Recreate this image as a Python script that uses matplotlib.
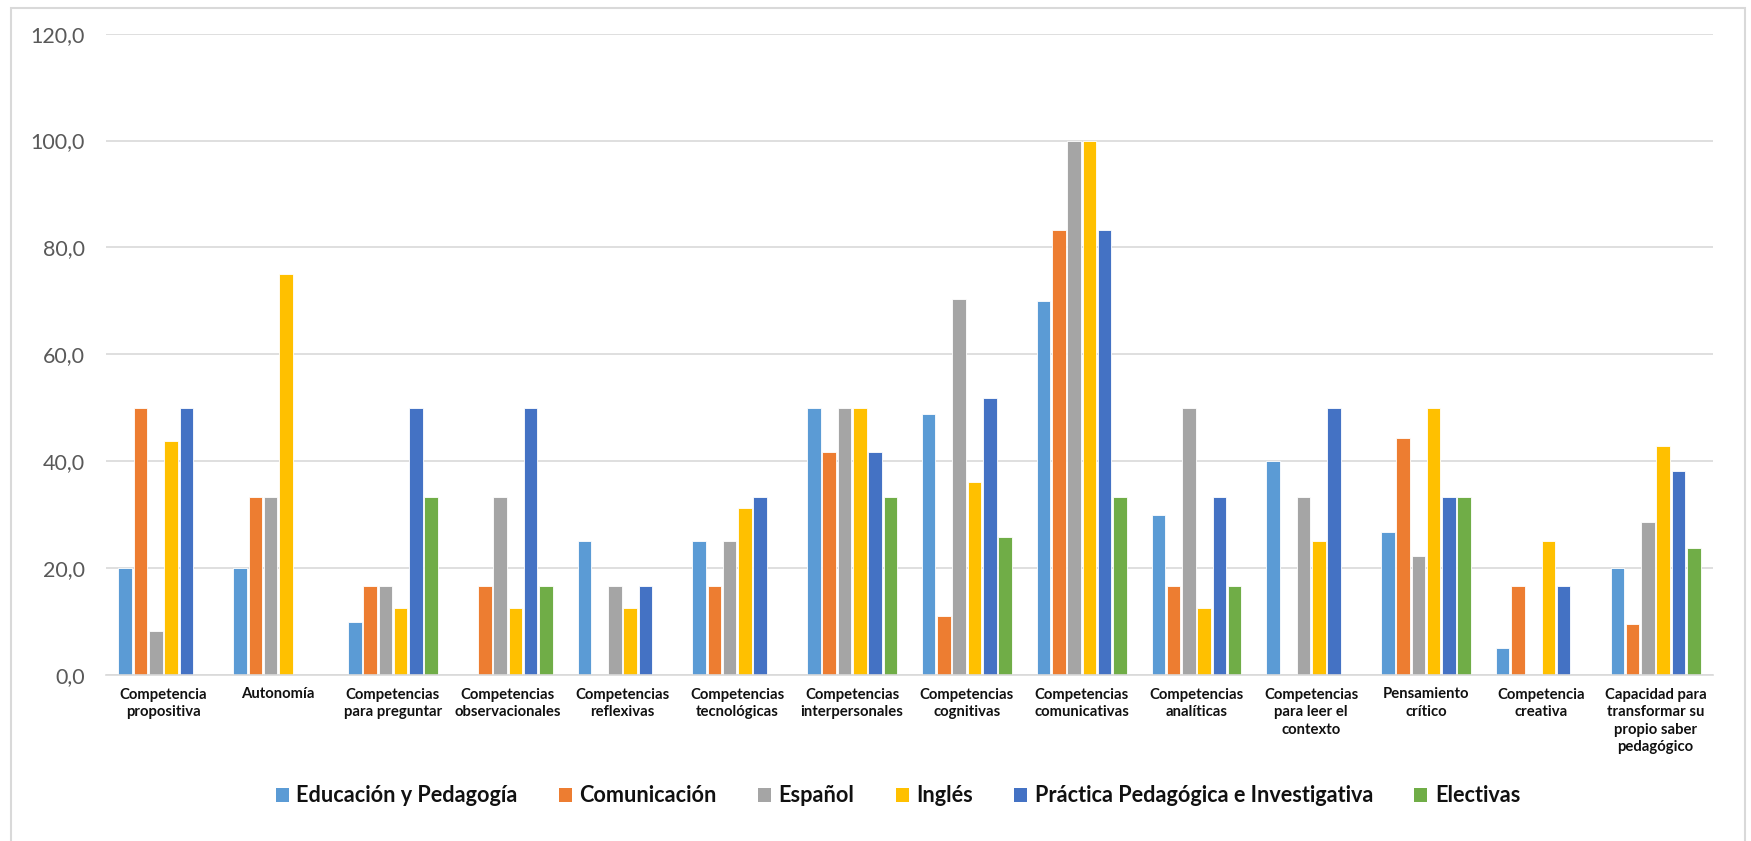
import matplotlib
matplotlib.use("Agg")
import matplotlib.pyplot as plt
from matplotlib.patches import Rectangle
from matplotlib.ticker import FuncFormatter
import numpy as np

plt.rcParams['font.family'] = ['Lato', 'DejaVu Sans']

categories = [
    "Competencia\npropositiva",
    "Autonomía",
    "Competencias\npara preguntar",
    "Competencias\nobservacionales",
    "Competencias\nreflexivas",
    "Competencias\ntecnológicas",
    "Competencias\ninterpersonales",
    "Competencias\ncognitivas",
    "Competencias\ncomunicativas",
    "Competencias\nanalíticas",
    "Competencias\npara leer el\ncontexto",
    "Pensamiento\ncrítico",
    "Competencia\ncreativa",
    "Capacidad para\ntransformar su\npropio saber\npedagógico",
]

series_names = [
    "Educación y Pedagogía",
    "Comunicación",
    "Español",
    "Inglés",
    "Práctica Pedagógica e Investigativa",
    "Electivas",
]

educacion = [20.0, 20.0, 10.0, 0.0, 25.0, 25.0, 50.0, 48.8, 70.0, 30.0, 40.0, 26.7, 5.0, 20.0]
comunicacion = [50.0, 33.3, 16.7, 16.7, 0.0, 16.7, 41.7, 11.1, 83.3, 16.7, 0.0, 44.4, 16.7, 9.5]
espanol = [8.3, 33.3, 16.7, 33.3, 16.7, 25.0, 50.0, 70.4, 100.0, 50.0, 33.3, 22.2, 0.0, 28.6]
ingles = [43.8, 75.0, 12.5, 12.5, 12.5, 31.3, 50.0, 36.1, 100.0, 12.5, 25.0, 50.0, 25.0, 42.9]
practica = [50.0, 0.0, 50.0, 50.0, 16.7, 33.3, 41.7, 51.9, 83.3, 33.3, 50.0, 33.3, 16.7, 38.1]
electivas = [0.0, 0.0, 33.3, 16.7, 0.0, 0.0, 33.3, 25.9, 33.3, 16.7, 0.0, 33.3, 0.0, 23.8]

series_values = [educacion, comunicacion, espanol, ingles, practica, electivas]
colors = ["#5B9BD5", "#ED7D31", "#A5A5A5", "#FFC000", "#4472C4", "#70AD47"]

y_ticks = [0, 20, 40, 60, 80, 100, 120]

fig = plt.figure(figsize=(17.51, 8.41), dpi=100)
fig.patch.set_facecolor("white")

# outer chart frame
fig.patches.append(Rectangle((11 / 1751, -0.05), (1745 - 11) / 1751, 1.05 - 8 / 841,
                             transform=fig.transFigure, fill=False,
                             edgecolor="#D9D9D9", linewidth=1.5))

ax = fig.add_axes([106 / 1751, 1 - 675 / 841, (1713 - 106) / 1751, (675 - 33.6) / 841])

x = np.arange(len(categories))
pitch = 0.133
bar_w = 0.118
for i, (name, vals, c) in enumerate(zip(series_names, series_values, colors)):
    offs = (i - 2.5) * pitch
    ax.bar(x + offs, vals, width=bar_w, color=c, edgecolor="white",
           linewidth=0.6, label=name, zorder=3)

ax.set_xlim(-0.5, len(categories) - 0.5)
ax.set_ylim(0, 120)
ax.set_yticks(y_ticks)
ax.yaxis.set_major_formatter(FuncFormatter(lambda v, p: f"{v:.1f}".replace(".", ",")))
ax.grid(axis="y", color="#D9D9D9", linewidth=1.2, zorder=0)
ax.set_axisbelow(True)

for s in ["top", "right", "left"]:
    ax.spines[s].set_visible(False)
ax.spines["bottom"].set_color("#D9D9D9")
ax.spines["bottom"].set_linewidth(1.2)
ax.spines["bottom"].set_zorder(4)

ax.tick_params(axis="y", length=0, pad=15, labelsize=15.5, labelcolor="#595959")
ax.tick_params(axis="x", length=0, pad=9)
ax.set_xticks(x)
ax.set_xticklabels(categories, fontsize=10.7, fontweight="bold", color="#111111",
                   linespacing=1.33)

handles = [Rectangle((0, 0), 1, 1, facecolor=c, edgecolor="none") for c in colors]
fig.legend(handles, series_names, loc="center", bbox_to_anchor=(898 / 1751, 1 - 796 / 841),
           ncol=6, frameon=False, prop={"size": 15.6, "weight": "bold"},
           handlelength=0.6, handleheight=0.65, handletextpad=0.35,
           columnspacing=1.9, labelcolor="#111111")

fig.savefig("out.png", dpi=100, facecolor="white")
